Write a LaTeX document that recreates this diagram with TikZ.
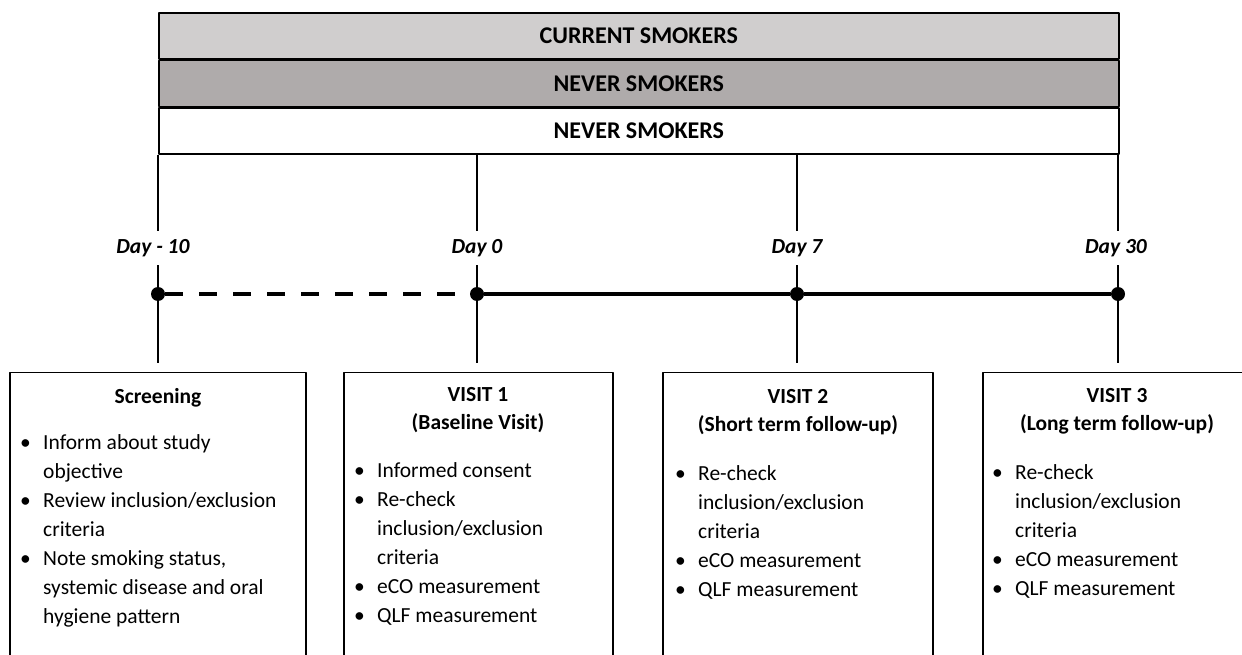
\documentclass[tikz,border=0pt]{standalone}
\usepackage{fontspec}
\setmainfont{Carlito}
\usepackage{tikz}
\usetikzlibrary{calc,positioning}
\definecolor{curgray}{RGB}{208,206,206}
\definecolor{nevgray}{RGB}{175,171,171}
\newcommand{\bitem}{\makebox[23pt][l]{\textbullet}}
\newcommand{\bcont}{\hspace*{23pt}}

\begin{document}
\begin{tikzpicture}[line join=round,x=1pt,y=-1pt,
  band/.style={draw=black,line width=1.6pt,minimum width=960pt,minimum height=46pt,inner sep=0pt,font=\fontsize{24}{28}\selectfont\bfseries},
  daylbl/.style={font=\fontsize{21.5}{26}\selectfont\bfseries\itshape,anchor=base,inner sep=0pt,text height=15pt,text depth=5pt},
  visitbox/.style={draw=black,line width=1.3pt,minimum height=300pt,anchor=north,inner sep=0pt},
  visithead/.style={font=\fontsize{21.5}{28.5}\selectfont\bfseries,align=center,anchor=north,yshift=19.95pt,inner sep=0pt,execute at begin node=\strut},
  visitlist/.style={font=\fontsize{21.5}{29}\selectfont,align=left,anchor=north west,yshift=20.3pt,inner sep=0pt,execute at begin node=\strut},
  tick/.style={line width=1.3pt},
  dot/.style={circle,fill=black,inner sep=0pt,minimum size=14pt}]
\useasboundingbox (0,0) rectangle (1242,655);

\node[band,fill=curgray,anchor=north west] (cur) at (158,12) {CURRENT SMOKERS};
\node[band,fill=nevgray,anchor=north] (nevA) at (cur.south) {NEVER SMOKERS};
\node[band,fill=white,anchor=north] (nevB) at (nevA.south) {NEVER SMOKERS};

\node[dot] (pa) at (158,294) {};
\node[dot] (pb) at (477,294) {};
\node[dot] (pc) at (797,294) {};
\node[dot] (pd) at (1118,294) {};

\node[daylbl] (la) at (153,254) {Day - 10};
\node[daylbl] (lb) at (477,254) {Day 0};
\node[daylbl] (lc) at (797,254) {Day 7};
\node[daylbl] (ld) at (1116,254) {Day 30};

\node[visitbox,minimum width=296pt] (ba) at (158,372) {};
\node[visitbox,minimum width=269pt] (bb) at (478.5,372) {};
\node[visitbox,minimum width=270pt] (bc) at (798,372) {};
\node[visitbox,minimum width=270pt] (bd) at (1118,372) {};

\draw[tick,shorten >=8pt] (nevB.south -| pa) -- (pa |- la.north);
\draw[tick,shorten >=8pt] (nevB.south -| pb) -- (pb |- lb.north);
\draw[tick,shorten >=8pt] (nevB.south -| pc) -- (pc |- lc.north);
\draw[tick,shorten >=8pt] (nevB.south -| pd) -- (pd |- ld.north);
\draw[tick,shorten <=6pt,shorten >=9pt] (pa |- la.south) -- (ba.north -| pa);
\draw[tick,shorten <=6pt,shorten >=9pt] (pb |- lb.south) -- (bb.north -| pb);
\draw[tick,shorten <=6pt,shorten >=9pt] (pc |- lc.south) -- (bc.north -| pc);
\draw[tick,shorten <=6pt,shorten >=9pt] (pd |- ld.south) -- (bd.north -| pd);

\draw[line width=4.5pt,dash pattern=on 18pt off 16pt] (pa) -- (pb);
\draw[line width=4.5pt] (pb) -- (pc);
\draw[line width=4.5pt] (pc) -- (pd);

\node[visithead] (ha) at (158,403) {Screening};
\node[visithead] (hb) at (478,407) {VISIT 1\\(Baseline Visit)};
\node[visithead] (hc) at (798,409) {VISIT 2\\(Short term follow-up)};
\node[visithead] (hd) at (1117,408) {VISIT 3\\(Long term follow-up)};

\node[visitlist] (ta) at (20,455) {\bitem Inform about study\\ \bcont objective\\ \bitem Review inclusion/exclusion\\ \bcont criteria\\ \bitem Note smoking status,\\ \bcont systemic disease and oral\\ \bcont hygiene pattern};
\node[visitlist] (tb) at (354,483) {\bitem Informed consent\\ \bitem Re-check\\ \bcont inclusion/exclusion\\ \bcont criteria\\ \bitem eCO measurement\\ \bitem QLF measurement};
\node[visitlist] (tc) at (675,486) {\bitem Re-check\\ \bcont inclusion/exclusion\\ \bcont criteria\\ \bitem eCO measurement\\ \bitem QLF measurement};
\node[visitlist] (td) at (992,485) {\bitem Re-check\\ \bcont inclusion/exclusion\\ \bcont criteria\\ \bitem eCO measurement\\ \bitem QLF measurement};
\end{tikzpicture}
\end{document}
